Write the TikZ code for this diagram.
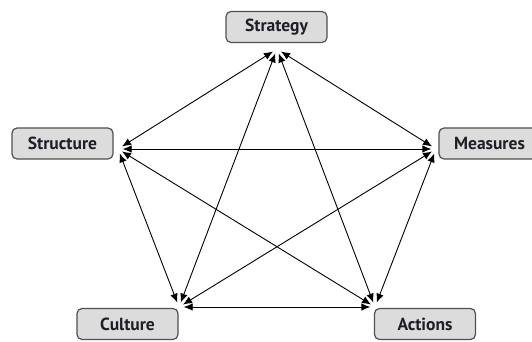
\documentclass[tikz,border=0pt]{standalone}
\usepackage{fontspec}
\setmainfont{PT Sans}
\usetikzlibrary{arrows.meta}
\definecolor{boxfill}{HTML}{DCDCDC}
\definecolor{boxline}{HTML}{505050}
\definecolor{txt}{HTML}{1E1E26}
\begin{document}
\begin{tikzpicture}[x=1pt,y=-1pt,
  lbl/.style={draw=boxline, line width=1.2pt, fill=boxfill, rounded corners=5pt,
    minimum width=101pt, minimum height=31pt, inner sep=0pt,
    font=\fontsize{17.5}{20}\selectfont\bfseries, text=txt},
  vtx/.style={circle, minimum size=9pt, inner sep=0pt, draw=none},
  link/.style={{Latex[length=9pt,width=7.5pt]}-{Latex[length=9pt,width=7.5pt]}, line width=0.9pt}
]
\useasboundingbox (0,0) rectangle (532,341);
\node[lbl] (strategy) at (276.5,27) {Strategy};
\node[lbl] (structure) at (62.5,143.5) {Structure};
\node[lbl] (measures) at (489.5,143.5) {Measures};
\node[lbl] (culture) at (127.5,324) {Culture};
\node[lbl] (actions) at (425,324) {Actions};
\node[vtx] (vs) at (277,49) {};
\node[vtx] (vl) at (118,149) {};
\node[vtx] (vr) at (436,149) {};
\node[vtx] (vc) at (179,307) {};
\node[vtx] (va) at (375,307) {};
\draw[link] (vs) -- (vl);
\draw[link] (vs) -- (vr);
\draw[link] (vs) -- (vc);
\draw[link] (vs) -- (va);
\draw[link] (vl) -- (vr);
\draw[link] (vl) -- (vc);
\draw[link] (vl) -- (va);
\draw[link] (vr) -- (vc);
\draw[link] (vr) -- (va);
\draw[link] (vc) -- (va);
\end{tikzpicture}
\end{document}
